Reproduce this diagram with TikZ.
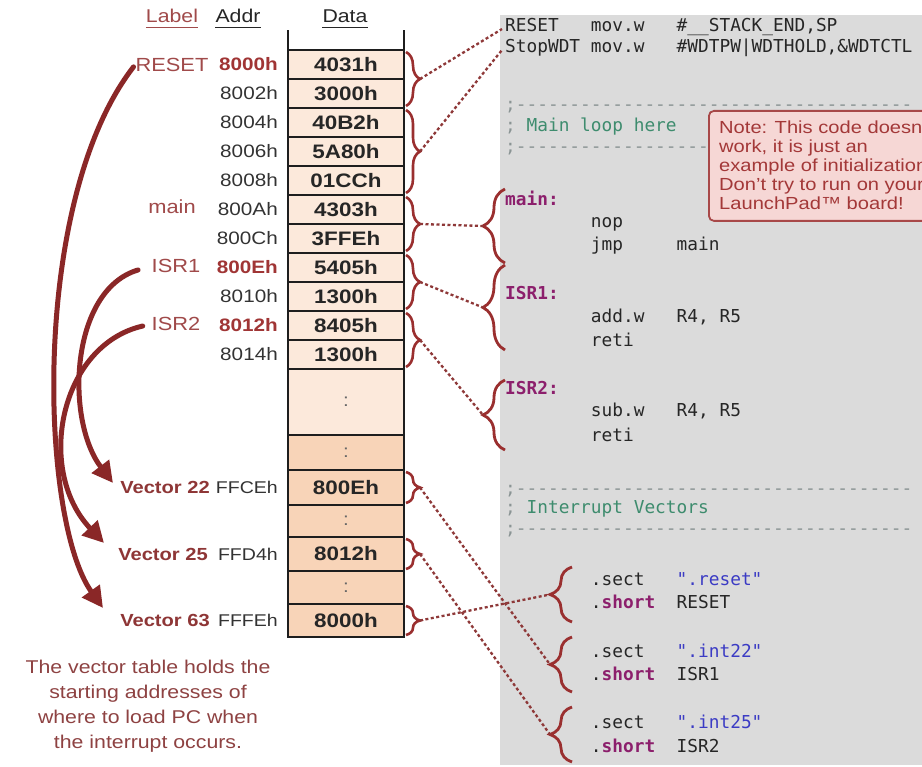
\documentclass[tikz,border=0pt]{standalone}
\usepackage{fontspec}
\setmainfont{Liberation Sans}[FakeStretch=1.15]
\newfontfamily\codefont{DejaVu Sans Mono}
\usetikzlibrary{arrows.meta,decorations.pathreplacing,calc}

\definecolor{cellLight}{HTML}{FCE9DB}
\definecolor{cellPeach}{HTML}{F8D4B8}
\definecolor{cellLine}{HTML}{1E1E1E}
\definecolor{braceRed}{HTML}{9A2F2F}
\definecolor{linkRed}{HTML}{8E3838}
\definecolor{jumpRed}{HTML}{8A2727}
\definecolor{labelRed}{HTML}{A04A4A}
\definecolor{addrRed}{HTML}{A03535}
\definecolor{addrGray}{HTML}{333333}
\definecolor{vecRed}{HTML}{8E3636}
\definecolor{noteFill}{HTML}{F6D7D5}
\definecolor{noteLine}{HTML}{A84848}
\definecolor{noteText}{HTML}{A33838}
\definecolor{panelGray}{HTML}{DBDBDB}
\definecolor{codeInk}{HTML}{262626}
\definecolor{commentGreen}{HTML}{3E8C6E}
\definecolor{sepGray}{HTML}{8A9494}
\definecolor{keyMagenta}{HTML}{8C1F6C}
\definecolor{strBlue}{HTML}{3B3BC4}
\definecolor{captionRed}{HTML}{8E4242}

% fixed-pitch columns for the assembly listing
\newlength\codecw
\setlength\codecw{10.72pt}
\newcommand\codecol[2]{\makebox[#1\codecw][l]{#2}}

\begin{document}
\begin{tikzpicture}[x=1pt,y=-1pt,
  cell/.style={draw=cellLine, line width=2.4pt, minimum width=116pt, outer sep=0pt, inner sep=0pt,
    font=\fontsize{19.5}{21}\selectfont\bfseries, text=black!85},
  gapcell/.style={cell, font=\fontsize{18}{20}\selectfont, text=black!60},
  hdr/.style={font=\fontsize{18.5}{20}\selectfont, inner sep=0pt, anchor=base},
  addr/.style={font=\fontsize{18}{20}\selectfont, text=addrGray, anchor=east, inner sep=0pt},
  vaddr/.style={addr, font=\fontsize{17}{20}\selectfont},
  addrhot/.style={addr, text=addrRed, font=\fontsize{18}{20}\selectfont\bfseries},
  lbl/.style={font=\fontsize{19}{20}\selectfont, text=labelRed, inner sep=0pt},
  veclbl/.style={font=\fontsize{17.5}{20}\selectfont\bfseries, text=vecRed, anchor=east, inner sep=0pt},
  code/.style={font=\codefont\fontsize{17.8}{20}\selectfont, text=codeInk, anchor=base west, inner sep=0pt},
  sepline/.style={code, text=sepGray},
  codekey/.style={code, text=keyMagenta, font=\codefont\fontsize{17.8}{20}\selectfont\bfseries},
  tbrace/.style={decorate, decoration={brace, amplitude=14pt}, draw=braceRed, line width=2.6pt},
  cbrace/.style={decorate, decoration={brace, amplitude=22pt}, draw=braceRed, line width=2.8pt},
  link/.style={draw=linkRed, line width=2.3pt, dash pattern=on 3pt off 2.5pt},
  jump/.style={draw=jumpRed, line width=5pt, line cap=round, -{Triangle[length=21pt,width=21pt]}}
]
\useasboundingbox (0,0) rectangle (922,767);
\fill[white] (0,0) rectangle (922,767);

% ---------- code panel ----------
\node[fill=panelGray, inner sep=0pt, minimum width=422pt, minimum height=750pt, anchor=north west] (panel) at (500,15) {};

\node[code] (cReset) at (505,32) {\codecol{8}{RESET}\codecol{8}{mov.w}\#\_\_STACK\_END,SP};
\node[code] (cStop) at (505,53) {\codecol{8}{StopWDT}\codecol{8}{mov.w}\#WDTPW|WDTHOLD,\&WDTCTL};
\node[sepline] (cSepA) at (505,111) {;-------------------------------------};
\node[code] (cMainCmt) at (505,132) {\textcolor{sepGray}{;} \textcolor{commentGreen}{Main loop here}};
\node[sepline] (cSepB) at (505,153) {;-------------------};
\node[codekey] (cMain) at (505,206) {main:};
\node[code] (cNop) at (505,228) {\codecol{8}{}nop};
\node[code] (cJmp) at (505,251) {\codecol{8}{}\codecol{8}{jmp}main};
\node[codekey] (cIsr1) at (505,300) {ISR1:};
\node[code] (cAdd) at (505,323) {\codecol{8}{}\codecol{8}{add.w}R4, R5};
\node[code] (cRetiA) at (505,347) {\codecol{8}{}reti};
\node[codekey] (cIsr2) at (505,395) {ISR2:};
\node[code] (cSub) at (505,417) {\codecol{8}{}\codecol{8}{sub.w}R4, R5};
\node[code] (cRetiB) at (505,442) {\codecol{8}{}reti};
\node[sepline] (cSepC) at (505,494) {;-------------------------------------};
\node[code] (cVecCmt) at (505,513) {\textcolor{sepGray}{;} \textcolor{commentGreen}{Interrupt Vectors}};
\node[sepline] (cSepD) at (505,534) {;-------------------------------------};
\node[code] (cSectA) at (505,585) {\codecol{8}{}\codecol{8}{.sect}\textcolor{strBlue}{".reset"}};
\node[code] (cShortA) at (505,608) {\codecol{8}{}\codecol{8}{.\textcolor{keyMagenta}{\bfseries short}}RESET};
\node[code] (cSectB) at (505,657) {\codecol{8}{}\codecol{8}{.sect}\textcolor{strBlue}{".int22"}};
\node[code] (cShortB) at (505,680) {\codecol{8}{}\codecol{8}{.\textcolor{keyMagenta}{\bfseries short}}ISR1};
\node[code] (cSectC) at (505,728) {\codecol{8}{}\codecol{8}{.sect}\textcolor{strBlue}{".int25"}};
\node[code] (cShortC) at (505,752) {\codecol{8}{}\codecol{8}{.\textcolor{keyMagenta}{\bfseries short}}ISR2};

% warning note, cut by the right edge
\begin{scope}
  \clip (0,0) rectangle (922,767);
  \node[draw=noteLine, fill=noteFill, line width=1.8pt, rounded corners=5pt, inner sep=0pt,
        minimum width=230pt, minimum height=110pt, anchor=north west] (note) at (708,110) {};
  \node[font=\fontsize{17.5}{19}\selectfont, text=noteText, align=left, anchor=north west, inner sep=0pt]
        (noteText) at (719,120.5) {Note: This code doesn't\\work, it is just an\\example of initialization\\Don't try to run on your\\LaunchPad™ board!};
\end{scope}

% ---------- column headers ----------
\node[hdr, text=labelRed] (hLabel) at (172,23) {Label};
\node[hdr, text=black!85] (hAddr) at (238,23) {Addr};
\node[hdr, text=black!85] (hData) at (345,23) {Data};
\draw[labelRed, line width=1.3pt] ($(hLabel.south west)+(0,4)$) -- ($(hLabel.south east)+(0,4)$);
\draw[black!85, line width=1.3pt] ($(hAddr.south west)+(0,4)$) -- ($(hAddr.south east)+(0,4)$);
\draw[black!85, line width=1.3pt] ($(hData.south west)+(0,4)$) -- ($(hData.south east)+(0,4)$);

% ---------- memory table ----------
\node[cell, fill=cellLight, minimum height=29pt] (m0) at (346,64.5) {4031h};
\node[cell, fill=cellLight, minimum height=29pt] (m1) at (346,93.5) {3000h};
\node[cell, fill=cellLight, minimum height=29pt] (m2) at (346,122.5) {40B2h};
\node[cell, fill=cellLight, minimum height=29pt] (m3) at (346,151.5) {5A80h};
\node[cell, fill=cellLight, minimum height=29pt] (m4) at (346,180.5) {01CCh};
\node[cell, fill=cellLight, minimum height=29pt] (m5) at (346,209.5) {4303h};
\node[cell, fill=cellLight, minimum height=29pt] (m6) at (346,238.5) {3FFEh};
\node[cell, fill=cellLight, minimum height=29pt] (m7) at (346,267.5) {5405h};
\node[cell, fill=cellLight, minimum height=29pt] (m8) at (346,296.5) {1300h};
\node[cell, fill=cellLight, minimum height=29pt] (m9) at (346,325.5) {8405h};
\node[cell, fill=cellLight, minimum height=29pt] (m10) at (346,354.5) {1300h};
\node[gapcell, fill=cellLight, minimum height=66pt] (gA) at (346,402) {:};
\node[gapcell, fill=cellPeach, minimum height=35pt] (gB) at (346,452.5) {:};
\node[cell, fill=cellPeach, minimum height=35pt] (v22) at (346,487.5) {800Eh};
\node[gapcell, fill=cellPeach, minimum height=32pt] (gC) at (346,521) {:};
\node[cell, fill=cellPeach, minimum height=34pt] (v25) at (346,554) {8012h};
\node[gapcell, fill=cellPeach, minimum height=33pt] (gD) at (346,587.5) {:};
\node[cell, fill=cellPeach, minimum height=33pt] (v63) at (346,620.5) {8000h};
\draw[cellLine, line width=2.4pt] (m0.north west) -- ++(0,-20);
\draw[cellLine, line width=2.4pt] (m0.north east) -- ++(0,-20);

% addresses
\node[addrhot] (a0) at (278,64.5) {8000h};
\node[addr] (a1) at (278,93.5) {8002h};
\node[addr] (a2) at (278,122.5) {8004h};
\node[addr] (a3) at (278,151.5) {8006h};
\node[addr] (a4) at (278,180.5) {8008h};
\node[addr] (a5) at (278,209.5) {800Ah};
\node[addr] (a6) at (278,238.5) {800Ch};
\node[addrhot] (a7) at (278,267.5) {800Eh};
\node[addr] (a8) at (278,296.5) {8010h};
\node[addrhot] (a9) at (278,325.5) {8012h};
\node[addr] (a10) at (278,354.5) {8014h};
\node[vaddr] (a22) at (278,487.5) {FFCEh};
\node[vaddr] (a25) at (278,554) {FFD4h};
\node[vaddr] (a63) at (278,620.5) {FFFEh};

% labels
\node[lbl] (lReset) at (172,64.5) {RESET};
\node[lbl] (lMain) at (172,207) {main};
\node[lbl] (lIsr1) at (176,266) {ISR1};
\node[lbl] (lIsr2) at (176,324) {ISR2};
\node[veclbl] (vec22) at (210,487.5) {Vector 22};
\node[veclbl] (vec25) at (208,554) {Vector 25};
\node[veclbl] (vec63) at (210,620.5) {Vector 63};

% caption
\node[font=\fontsize{18.5}{25}\selectfont, text=captionRed, align=center, anchor=north, inner sep=0pt]
  (caption) at (148,659.5) {The vector table holds the\\starting addresses of\\where to load PC when\\the interrupt occurs.};

% ---------- braces on the table ----------
\draw[tbrace] ($(m0.north east)+(2,2)$) -- ($(m1.south east)+(2,-2)$);
\draw[tbrace] ($(m2.north east)+(2,2)$) -- ($(m4.south east)+(2,-2)$);
\draw[tbrace] ($(m5.north east)+(2,2)$) -- ($(m6.south east)+(2,-2)$);
\draw[tbrace] ($(m7.north east)+(2,2)$) -- ($(m8.south east)+(2,-2)$);
\draw[tbrace] ($(m9.north east)+(2,2)$) -- ($(m10.south east)+(2,-2)$);
\draw[tbrace] ($(v22.north east)+(2,2)$) -- ($(v22.south east)+(2,-2)$);
\draw[tbrace] ($(v25.north east)+(2,2)$) -- ($(v25.south east)+(2,-2)$);
\draw[tbrace] ($(v63.north east)+(2,2)$) -- ($(v63.south east)+(2,-2)$);
\coordinate (tb1) at ($(m0.north east)!.5!(m1.south east)+(16,0)$);
\coordinate (tb2) at ($(m2.north east)!.5!(m4.south east)+(16,0)$);
\coordinate (tb3) at ($(m5.north east)!.5!(m6.south east)+(16,0)$);
\coordinate (tb4) at ($(m7.north east)!.5!(m8.south east)+(16,0)$);
\coordinate (tb5) at ($(m9.north east)!.5!(m10.south east)+(16,0)$);
\coordinate (tv22) at ($(v22.east)+(16,0)$);
\coordinate (tv25) at ($(v25.east)+(16,0)$);
\coordinate (tv63) at ($(v63.east)+(16,0)$);

% ---------- braces in the listing ----------
\draw[cbrace] (505,263) -- (505,189);
\draw[cbrace] (505,350) -- (505,265);
\draw[cbrace] (505,450) -- (505,380);
\draw[cbrace] (572,622) -- (572,567);
\draw[cbrace] (572,692) -- (572,637);
\draw[cbrace] (572,762) -- (572,707);
\coordinate (bMain) at (483,226);
\coordinate (bIsr1) at (483,307.5);
\coordinate (bIsr2) at (483,415);
\coordinate (bReset) at (550,594.5);
\coordinate (bInt22) at (550,664.5);
\coordinate (bInt25) at (550,734.5);

% ---------- dotted links ----------
\draw[link] (tb1) -- ($(cReset.base west)+(-3,-3)$);
\draw[link] (tb2) -- ($(cStop.base west)+(-3,-3)$);
\draw[link] (tb3) -- (bMain);
\draw[link] (tb4) -- (bIsr1);
\draw[link] (tb5) -- (bIsr2);
\draw[link] (tv22) -- (bInt22);
\draw[link] (tv25) -- (bInt25);
\draw[link] (tv63) -- (bReset);

% ---------- vector arrows ----------
\coordinate (tip22) at (113,483);
\coordinate (tip25) at (104,543);
\coordinate (tip63) at (103,608);
\draw[jump, shorten <=3pt] (lReset.west) .. controls (30,200) and (40,520) .. (tip63);
\draw[jump, shorten <=14pt] (lIsr1.west) .. controls (70,290) and (65,420) .. (tip22);
\draw[jump, shorten <=9pt] (lIsr2.west) .. controls (60,345) and (35,470) .. (tip25);
\end{tikzpicture}
\end{document}
